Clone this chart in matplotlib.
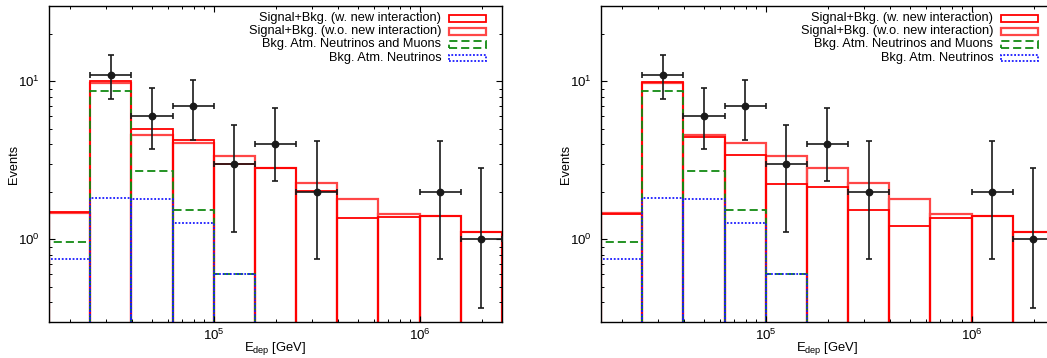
import numpy as np
import matplotlib
matplotlib.use("Agg")
import matplotlib.pyplot as plt
from matplotlib.patches import Rectangle

plt.rcParams['font.family'] = ['Liberation Sans', 'DejaVu Sans']
plt.rcParams['mathtext.fontset'] = 'custom'
plt.rcParams['mathtext.rm'] = 'Liberation Sans'
plt.rcParams['mathtext.it'] = 'Liberation Sans:italic'
plt.rcParams['mathtext.default'] = 'regular'

# bin edges in log10(E_dep / GeV)
log_edges = [4.2, 4.4, 4.6, 4.8, 5.0, 5.2, 5.4, 5.6, 5.8, 6.0, 6.2, 6.4]

# expected events per bin
sm_total = [1.46, 9.8, 4.6, 4.05, 3.39, 2.82, 2.29, 1.80, 1.44, 1.40, 1.11]     # w.o. new interaction
new_left = [1.50, 10.0, 4.97, 4.26, 3.02, 2.83, 2.01, 1.36, 1.38, 1.41, 1.12]  # w. new interaction, left
new_right = [1.45, 9.9, 4.45, 3.41, 2.24, 2.16, 1.54, 1.21, 1.37, 1.40, 1.12]  # w. new interaction, right
bkg_nu_mu = [0.957, 8.7, 2.71, 1.54, 0.607, 0, 0, 0, 0, 0, 0]
bkg_nu = [0.75, 1.82, 1.80, 1.27, 0.607, 0, 0, 0, 0, 0, 0]

# observed events with error bar ranges
data_counts = [0, 11, 6, 7, 3, 4, 2, 0, 0, 2, 1]
data_low = [0, 7.7, 3.76, 4.24, 1.12, 2.34, 0.75, 0, 0, 0.75, 0.37]
data_high = [0, 14.7, 9.12, 10.2, 5.3, 6.75, 4.2, 0, 0, 4.2, 2.81]

legend_labels = ['Signal+Bkg. (w. new interaction)', 'Signal+Bkg. (w.o. new interaction)',
                 'Bkg. Atm. Neutrinos and Muons', 'Bkg. Atm. Neutrinos']

edges = 10 ** np.array(log_edges)
lefts = edges[:-1]
widths = np.diff(edges)
centers = np.sqrt(edges[:-1] * edges[1:])
FLOOR = 1e-3

styles = [
    dict(edgecolor='#ff0000', linewidth=1.3, linestyle='-'),
    dict(edgecolor='#ff4646', linewidth=1.6, linestyle='-'),
    dict(edgecolor='#128a12', linewidth=1.3, linestyle=(0, (4.5, 2.2))),
    dict(edgecolor='#1a1aff', linewidth=1.3, linestyle=(0, (1, 1))),
]


def boxes(ax, vals, style):
    vals = np.array(vals, dtype=float)
    m = vals > 0
    ax.bar(lefts[m], vals[m] - FLOOR, width=widths[m], bottom=FLOOR, align='edge',
           fill=False, **style)


def panel(ax, new_vals):
    boxes(ax, sm_total, styles[1])
    boxes(ax, new_vals, styles[0])
    boxes(ax, bkg_nu_mu, styles[2])
    boxes(ax, bkg_nu, styles[3])

    n = np.array(data_counts, dtype=float)
    m = n > 0
    lo = n[m] - np.array(data_low)[m]
    hi = np.array(data_high)[m] - n[m]
    xl = centers[m] - lefts[m]
    xh = edges[1:][m] - centers[m]
    ax.errorbar(centers[m], n[m], yerr=[lo, hi], xerr=[xl, xh], fmt='o', color='#1a1a1a',
                markersize=4.6, elinewidth=1.2, capsize=2.4, capthick=1.2, zorder=5)

    ax.set_xscale('log')
    ax.set_yscale('log')
    ax.set_xlim(edges[0], edges[-1])
    ax.set_ylim(0.3, 30)
    ax.tick_params(which='both', direction='in', top=True, right=True, labelsize=9.6)
    ax.tick_params(which='major', length=4.5, width=0.8)
    ax.tick_params(which='minor', length=2.3, width=0.7)
    ax.tick_params(axis='y', pad=6.5)
    ax.tick_params(axis='x', pad=4.5)
    ax.set_ylabel('Events', fontsize=9.2, labelpad=-1)
    ax.set_xlabel('E$_{dep}$ [GeV]', fontsize=9.4, labelpad=-2.5)
    for sp in ax.spines.values():
        sp.set_linewidth(1.0)

    # key: right-aligned text with box samples
    tx, bx0, bx1, bh = 0.866, 0.882, 0.965, 0.021
    rows = [0.961, 0.920, 0.879, 0.836]
    for lab, st, yy in zip(legend_labels, styles, rows):
        ax.text(tx, yy, lab, transform=ax.transAxes, ha='right', va='center', fontsize=9.2)
        ax.add_patch(Rectangle((bx0, yy - bh / 2), bx1 - bx0, bh, transform=ax.transAxes,
                               fill=False, clip_on=False, **st))


fig = plt.figure(figsize=(10.47, 3.58), dpi=100)
ax1 = fig.add_axes([49 / 1047, 36 / 358, 453 / 1047, 316 / 358])
ax2 = fig.add_axes([601 / 1047, 36 / 358, 453 / 1047, 316 / 358])
panel(ax1, new_left)
panel(ax2, new_right)

fig.savefig('out.png', dpi=100)
